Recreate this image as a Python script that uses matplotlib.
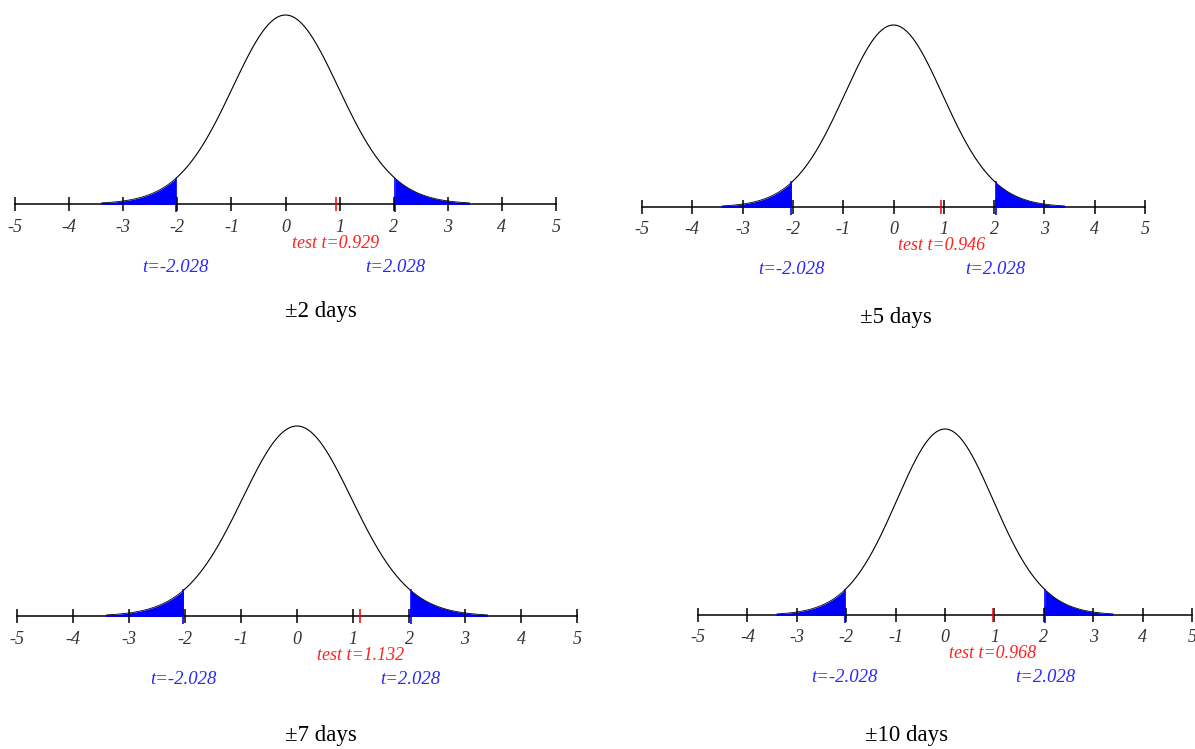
import math
import matplotlib
matplotlib.use('Agg')
import matplotlib.pyplot as plt
import numpy as np

# data
captions = ["±2 days", "±5 days", "±7 days", "±10 days"]
test_t = [0.929, 0.946, 1.132, 0.968]
crit_t = 2.028
dof = 36
tick_vals = [-5, -4, -3, -2, -1, 0, 1, 2, 3, 4, 5]
curve_lim = 3.4

W, H = 1195, 749

# panel layout in pixels: x of -5, x of 5, y of axis line, y of peak, caption centre (x, y)
panels = [
    (15, 556, 204, 15, 321, 311),
    (642, 1145, 207, 25, 896, 317),
    (17, 577, 616, 426, 321, 735),
    (698, 1192, 615, 429, 907, 735),
]


def t_pdf(x, k):
    c = math.gamma((k + 1) / 2) / (math.sqrt(k * math.pi) * math.gamma(k / 2))
    return c * (1 + x ** 2 / k) ** (-(k + 1) / 2)


fig = plt.figure(figsize=(W / 100, H / 100), dpi=100)
serif = ['Liberation Serif', 'DejaVu Serif']

x = np.linspace(-curve_lim, curve_lim, 800)
y = t_pdf(x, dof)
peak = t_pdf(0.0, dof)

for i, (xl, xr, ya, yp, cx, cy) in enumerate(panels):
    ax = fig.add_axes([xl / W, (H - ya) / H, (xr - xl) / W, (ya - yp) / H])
    ax.set_xlim(-5, 5)
    ax.set_ylim(0, peak)
    ax.axis('off')

    # tails
    left = x <= -crit_t
    right = x >= crit_t
    ax.fill_between(x[left], 0, y[left], color='#0000ff', lw=0)
    ax.fill_between(x[right], 0, y[right], color='#0000ff', lw=0)
    ax.plot([-curve_lim, -crit_t], [0, 0], color='#0000ff', lw=1.2, clip_on=False, zorder=3)
    ax.plot([crit_t, curve_lim], [0, 0], color='#0000ff', lw=1.2, clip_on=False, zorder=3)

    # curve
    mid = (x > -crit_t) & (x < crit_t)
    ax.plot(x[mid], y[mid], color='black', lw=0.8, clip_on=False)
    ax.plot(x[left], y[left], color='black', lw=0.6, clip_on=False)
    ax.plot(x[right], y[right], color='black', lw=0.6, clip_on=False)

    # axis line
    ax.plot([-5, 5], [0, 0], color='black', lw=1.1, clip_on=False, zorder=2)
    ax.plot(tick_vals, [0] * len(tick_vals), ls='none', marker='|', ms=10,
            mew=1.1, color='black', clip_on=False, zorder=4)

    # critical value markers
    for v in (-crit_t, crit_t):
        ax.plot([v, v], [0, y[np.argmin(abs(x - v))]], color='#0000ff', lw=1.2, zorder=3)
    ax.plot([-crit_t, crit_t], [0, 0], ls='none', marker='|', ms=11, mew=1.2,
            color='#0000ff', clip_on=False, zorder=3)

    # test statistic marker
    ax.plot([test_t[i]], [0], ls='none', marker='|', ms=10, mew=1.1,
            color='#ff0000', clip_on=False, zorder=5)

    for v in tick_vals:
        ax.annotate(str(v), xy=(v, 0), xytext=(0, -23), textcoords='offset pixels',
                    ha='center', va='center', fontsize=13, style='italic',
                    family=serif, color='#333333')

    ax.annotate(f"test t={test_t[i]:.3f}", xy=(test_t[i], 0), xytext=(0, -39),
                textcoords='offset pixels', ha='center', va='center', fontsize=13,
                style='italic', family=serif, color='#ff2020')
    for v in (-crit_t, crit_t):
        ax.annotate(f"t={v:.3f}", xy=(v, 0), xytext=(0, -63),
                    textcoords='offset pixels', ha='center', va='center', fontsize=13.5,
                    style='italic', family=serif, color='#2828ff')

    fig.text(cx / W, 1 - cy / H, captions[i], ha='center', va='center',
             fontsize=16.5, family=serif, color='black')

plt.savefig('out.png', dpi=100)
plt.close()
